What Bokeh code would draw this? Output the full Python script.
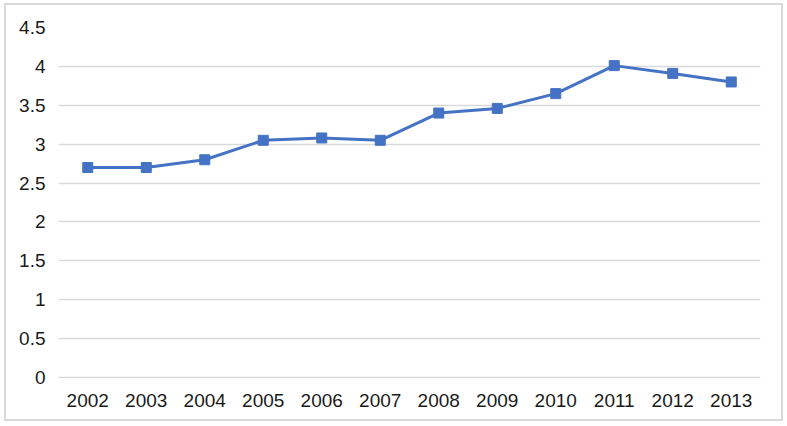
from bokeh.plotting import figure
from bokeh.models import Range1d, FixedTicker
from bokeh.embed import file_html
from bokeh.resources import INLINE

years = ["2002", "2003", "2004", "2005", "2006", "2007", "2008", "2009", "2010", "2011", "2012", "2013"]
values = [2.70, 2.70, 2.80, 3.05, 3.08, 3.05, 3.40, 3.46, 3.65, 4.01, 3.91, 3.80]
y_ticks = [0, 0.5, 1, 1.5, 2, 2.5, 3, 3.5, 4, 4.5]

FONT = "Liberation Sans"
BLUE = "#4472C4"

# figure box placed at (4,3) with 2px border drawn by CSS
p = figure(x_range=years, y_range=Range1d(-0.012, 4.5), width=779, height=418,
           output_backend="svg", toolbar_location=None,
           min_border_left=52, min_border_right=25, min_border_top=22, min_border_bottom=45)
p.styles = {"border": "2px solid #d9d9d9", "box-sizing": "border-box",
            "margin-left": "4px", "margin-top": "3px"}

p.line(years, values, line_color=BLUE, line_width=3)
p.scatter(years, values, marker="square", size=10, fill_color=BLUE, line_color=BLUE)

p.outline_line_color = None
p.xgrid.grid_line_color = None
p.ygrid.grid_line_color = "#d9d9d9"
p.ygrid.grid_line_width = 1.5
p.yaxis.ticker = FixedTicker(ticks=y_ticks)

for ax in (p.xaxis, p.yaxis):
    ax.axis_line_color = None
    ax.major_tick_line_color = None
    ax.minor_tick_line_color = None
    ax.major_tick_out = 0
    ax.major_tick_in = 0
    ax.major_label_text_font = FONT
    ax.major_label_text_font_size = "19px"
    ax.major_label_text_color = "#1a1a1a"

p.yaxis.major_label_standoff = 13
p.xaxis.major_label_standoff = 15

open("out.html", "w").write(file_html(p, INLINE))
